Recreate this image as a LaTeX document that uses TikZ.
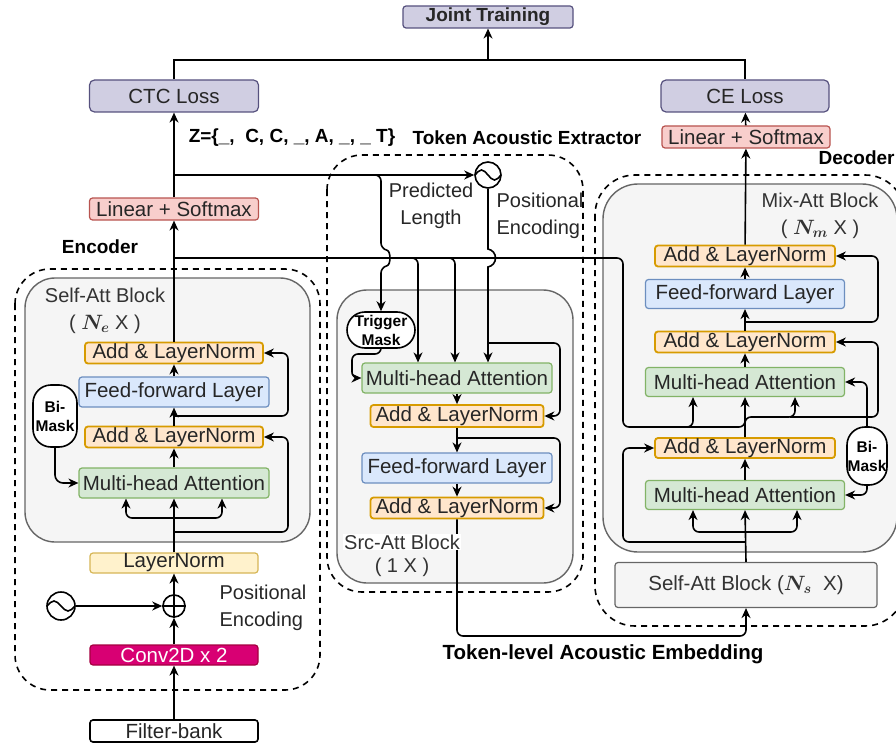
\documentclass[tikz,border=0pt]{standalone}
\usepackage{fontspec}
\setmainfont{Liberation Sans}
\usetikzlibrary{arrows.meta}

\definecolor{purplefill}{HTML}{D0CEE2}
\definecolor{purpledraw}{HTML}{56517E}
\definecolor{redfill}{HTML}{F8CECC}
\definecolor{reddraw}{HTML}{B85450}
\definecolor{orangefill}{HTML}{FFE6CC}
\definecolor{orangedraw}{HTML}{D79B00}
\definecolor{bluefill}{HTML}{DAE8FC}
\definecolor{bluedraw}{HTML}{6C8EBF}
\definecolor{greenfill}{HTML}{D5E8D4}
\definecolor{greendraw}{HTML}{82B366}
\definecolor{yellowfill}{HTML}{FFF2CC}
\definecolor{yellowdraw}{HTML}{D6B656}
\definecolor{convfill}{HTML}{D80073}
\definecolor{convdraw}{HTML}{A50040}
\definecolor{blockfill}{HTML}{F5F5F5}
\definecolor{blockdraw}{HTML}{666666}
\definecolor{labelgray}{HTML}{333333}

\tikzset{
  box/.style={draw, rounded corners=3pt, line width=1.2pt, inner sep=0pt, text=black!85, font=\fontsize{20.5}{24}\selectfont},
  lossbox/.style={box, fill=purplefill, draw=purpledraw, minimum width=169pt, minimum height=32pt, rounded corners=5pt},
  linbox/.style={box, fill=redfill, draw=reddraw, minimum width=169pt, minimum height=22pt},
  addbox/.style={box, fill=orangefill, draw=orangedraw, line width=1.8pt, minimum width=178pt, minimum height=21pt},
  ffbox/.style={box, fill=bluefill, draw=bluedraw, minimum width=190pt, minimum height=30pt},
  attbox/.style={box, fill=greenfill, draw=greendraw, minimum width=190pt, minimum height=30pt},
  maskbox/.style={draw, fill=white, line width=1.6pt, rounded corners=18pt, inner sep=0pt, align=center, font=\bfseries\fontsize{15.5}{19}\selectfont},
  outer/.style={draw, dashed, line width=1.6pt, dash pattern=on 6pt off 5pt},
  block/.style={draw=blockdraw, fill=blockfill, line width=1.4pt},
  arr/.style={-{Stealth[length=10pt,width=9pt]}, line width=1.6pt},
  wire/.style={line width=1.6pt},
  blocklabel/.style={text=labelgray, align=center, font=\fontsize{20}{27}\selectfont},
  title/.style={font=\bfseries\fontsize{19}{23}\selectfont},
  pe/.style={draw, circle, line width=1.6pt, minimum size=28pt, inner sep=0pt},
}

\begin{document}
\begin{tikzpicture}[x=1pt,y=-1pt]
\useasboundingbox (0,0) rectangle (896,746);

% dashed modules
\draw[outer, rounded corners=35pt] (15,269) rectangle (320,690);
\draw[outer, rounded corners=35pt] (327,155) rectangle (583,592);
\draw[outer, rounded corners=40pt] (595,175) rectangle (905,626);
% gray blocks
\draw[block, rounded corners=30pt] (25,278) rectangle (310,542);
\draw[block, rounded corners=30pt] (337,290) rectangle (573,583);
\draw[block, rounded corners=35pt] (603,184) rectangle (897,552);

% losses
\node[lossbox, font=\bfseries\fontsize{19}{23}\selectfont, minimum width=170pt, minimum height=22pt, rounded corners=3pt] (joint) at (488,17) {Joint Training};
\node[lossbox] (ctc) at (174,96) {CTC Loss};
\node[lossbox, minimum width=168pt] (ce) at (745,96) {CE Loss};
\node[linbox] (linE) at (174,209) {Linear + Softmax};
\node[linbox, minimum width=168pt] (linD) at (746,137) {Linear + Softmax};

% encoder
\node[addbox] (addE2) at (174,353) {Add \& LayerNorm};
\node[ffbox] (ffE) at (174,392) {Feed-forward Layer};
\node[addbox] (addE1) at (174,437) {Add \& LayerNorm};
\node[attbox] (mhaE) at (174,483) {Multi-head Attention};
\node[maskbox, minimum width=44pt, minimum height=62pt] (maskE) at (55,416) {Bi-\\Mask};
\node[box, fill=yellowfill, draw=yellowdraw, minimum width=168pt, minimum height=20pt] (normE) at (174,563) {LayerNorm};
\node[pe, minimum size=22pt] (plusE) at (174,606) {};
\node[pe] (sineE) at (61,606) {};
\node[box, fill=convfill, draw=convdraw, text=white, minimum width=168pt, minimum height=20pt] (convE) at (174,655) {Conv2D x 2};
\node[box, fill=white, draw=black, line width=1.6pt, minimum width=168pt, minimum height=22pt] (fbank) at (174,731) {Filter-bank};
\draw[line width=1.2pt] (plusE.north) -- (plusE.south) (plusE.west) -- (plusE.east);
\draw[line width=1.6pt] ([xshift=-14pt]sineE.center) sin ++(7,-5) cos ++(7,5) sin ++(7,5) cos ++(7,-5);

% token acoustic extractor
\node[maskbox, minimum width=68pt, minimum height=36pt] (trig) at (381,330) {Trigger\\Mask};
\node[attbox] (mhaS) at (457,378) {Multi-head Attention};
\node[addbox, minimum width=173pt, minimum height=22pt] (addS1) at (457,416) {Add \& LayerNorm};
\node[ffbox] (ffS) at (457,468) {Feed-forward Layer};
\node[addbox, minimum width=173pt] (addS2) at (457,508) {Add \& LayerNorm};
\node[pe, minimum size=26pt] (sineS) at (488,175) {};
\draw[line width=1.6pt] ([xshift=-13pt]sineS.center) sin ++(6.5,-5) cos ++(6.5,5) sin ++(6.5,5) cos ++(6.5,-5);

% decoder
\node[addbox, minimum width=180pt] (addD3) at (745,256) {Add \& LayerNorm};
\node[ffbox, minimum width=199pt, minimum height=29pt] (ffD) at (745,294) {Feed-forward Layer};
\node[addbox, minimum width=180pt] (addD2) at (745,342) {Add \& LayerNorm};
\node[attbox, minimum width=199pt, minimum height=29pt] (mhaD2) at (745,382) {Multi-head Attention};
\node[addbox, minimum width=180pt, minimum height=20pt] (addD1) at (745,448) {Add \& LayerNorm};
\node[attbox, minimum width=199pt, minimum height=29pt] (mhaD1) at (745,495) {Multi-head Attention};
\node[maskbox, minimum width=40pt, minimum height=58pt] (maskD) at (867,456) {Bi-\\Mask};
\node[box, fill=blockfill, draw=blockdraw, text=labelgray, minimum width=262pt, minimum height=45pt] (selfD) at (746,585) {Self-Att Block ({\boldmath$N_s$}\ \ X)};

% joint training
\draw[wire] (ctc.north) |- (488,60) -| (ce.north);
\draw[arr] (488,60) -- (joint.south);

% encoder wiring
\draw[arr] (fbank) -- (convE);
\draw[arr] (convE) -- (plusE);
\draw[arr] (sineE) -- (plusE);
\draw[arr] (plusE) -- (normE);
\draw[arr] (normE.north) -- (mhaE.south);
\draw[arr, rounded corners=6pt] (174,518) -| ([xshift=-48pt]mhaE.south);
\draw[arr, rounded corners=6pt] (174,518) -| ([xshift=48pt]mhaE.south);
\draw[arr, rounded corners=6pt] (174,532) -- (288,532) |- (addE1.east);
\draw[arr, rounded corners=8pt] (maskE.south) |- (mhaE.west);
\draw[arr] (mhaE) -- (addE1);
\draw[arr] (addE1) -- (ffE);
\draw[arr] (ffE) -- (addE2);
\draw[arr, rounded corners=6pt] (174,416) -- (288,416) |- (addE2.east);
\draw[arr] (addE2.north) -- (linE.south);
\draw[arr] (linE.north) -- (ctc.south);

% encoder output to extractor and decoder
\draw[arr] (174,175) -- (sineS.west);
\draw[arr, rounded corners=6pt] (370,175) -- (381,175) -- (381,249) .. controls (391,251) and (391,265) .. (381,267) -- (trig.north);
\draw[arr, rounded corners=6pt] (174,258) -- (623,258) -- (623,427) -| ([xshift=-52pt]mhaD2.south);
\draw[arr, rounded corners=6pt] (660,427) -| (mhaD2.south);
\draw[arr, rounded corners=6pt] (400,258) -| ([xshift=-39pt]mhaS.north);
\draw[arr, rounded corners=6pt] (430,258) -| ([xshift=-2pt]mhaS.north);
\draw[arr] (sineS.south) -- (488,249) .. controls (498,251) and (498,265) .. (488,267) -- ([xshift=31pt]mhaS.north);

% extractor wiring
\draw[arr, rounded corners=6pt] (trig.south) |- (352,354) |- (mhaS.west);
\draw[arr, rounded corners=6pt] (488,343) -- (560,343) |- (addS1.east);
\draw[arr] (mhaS) -- (addS1);
\draw[arr] (addS1) -- (ffS);
\draw[arr] (ffS) -- (addS2);
\draw[arr, rounded corners=6pt] (457,438) -- (560,438) |- (addS2.east);
\draw[arr, rounded corners=6pt] (addS2.south) |- (600,636) -| (selfD.south);

% decoder wiring
\draw[arr] (selfD.north) -- (mhaD1.south);
\draw[arr, rounded corners=6pt] (745,532) -| ([xshift=-52pt]mhaD1.south);
\draw[arr, rounded corners=6pt] (745,532) -| ([xshift=52pt]mhaD1.south);
\draw[arr, rounded corners=6pt] (745,542) -- (623,542) |- (addD1.west);
\draw[arr] (mhaD1) -- (addD1);
\draw[arr, rounded corners=6pt] (addD1.north) |- (780,417) -| ([xshift=50pt]mhaD2.south);
\draw[arr, rounded corners=6pt] (790,417) -- (878,417) |- (addD2.east);
\draw[arr, rounded corners=6pt] (maskD.north) |- (mhaD2.east);
\draw[arr, rounded corners=6pt] (maskD.south) |- (mhaD1.east);
\draw[arr] (mhaD2) -- (addD2);
\draw[arr] (addD2) -- (ffD);
\draw[arr] (ffD) -- (addD3);
\draw[arr, rounded corners=6pt] (745,322) -- (878,322) |- (addD3.east);
\draw[arr] (addD3) -- (linD);
\draw[arr] (linD) -- (ce);

% labels
\node[title] at (100,247) {Encoder};
\node[title, anchor=west] at (815,158) {Decoder};
\node[title] at (527,138) {Token Acoustic Extractor};
\node[title] at (292,138) {Z=\{\_,\ \ C, C, \_, A, \_, \_ T\}};
\node[title, font=\bfseries\fontsize{20.5}{24}\selectfont] at (603,654) {Token-level Acoustic Embedding};
\node[blocklabel] at (105,311) {Self-Att Block\\( {\boldmath$N_e$}\ X )};
\node[blocklabel] at (820,216) {Mix-Att Block\\( {\boldmath$N_m$}\ X )};
\node[blocklabel, fill=white, inner sep=1pt] at (402,542) {Src-Att Block};
\node[blocklabel] at (402,567) {( 1 X )};
\node[blocklabel, text=black!85] at (431,206) {Predicted\\Length};
\node[blocklabel, text=black!85, align=left] at (540,216) {Positional\\Encoding};
\node[blocklabel, text=black!85, align=left] at (263,608) {Positional\\Encoding};
\end{tikzpicture}
\end{document}
